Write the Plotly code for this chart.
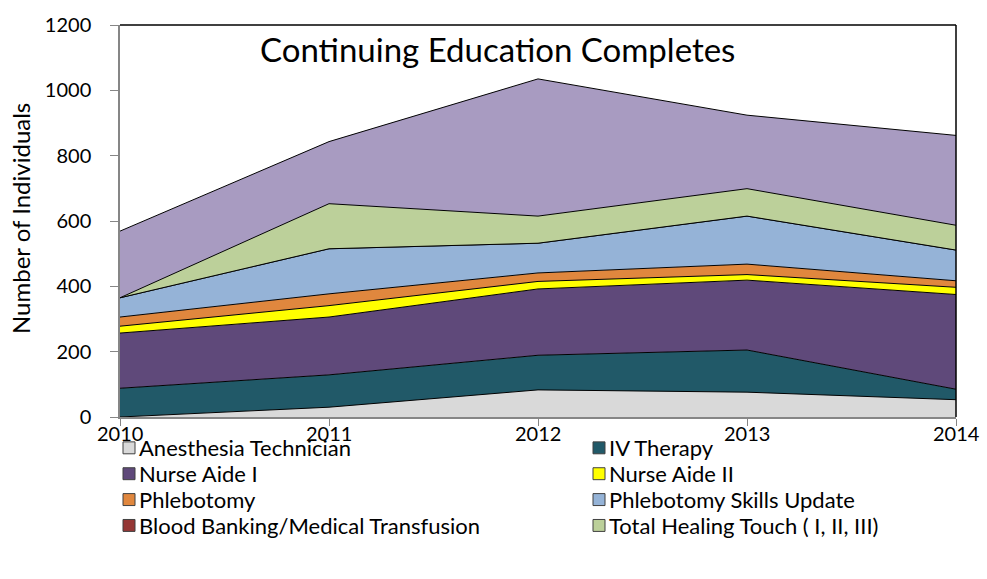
import plotly.graph_objects as go

years = [2010, 2011, 2012, 2013, 2014]
year_labels = ["2010", "2011", "2012", "2013", "2014"]

series_names = [
    "Anesthesia Technician",
    "IV Therapy",
    "Nurse Aide I",
    "Nurse Aide II",
    "Phlebotomy",
    "Phlebotomy Skills Update",
    "Blood Banking/Medical Transfusion",
    "Total Healing Touch ( I, II, III)",
    "Other",
]

anesthesia = [0, 30, 83, 76, 53]
iv_therapy = [88, 99, 106, 129, 32]
nurse_aide_1 = [169, 177, 203, 214, 290]
nurse_aide_2 = [21, 35, 23, 17, 22]
phlebotomy = [28, 36, 26, 32, 20]
phleb_skills = [59, 138, 91, 147, 94]
blood_banking = [0, 0, 0, 0, 0]
healing_touch = [0, 138, 83, 84, 76]
other = [204, 190, 420, 225, 275]

series_values = [anesthesia, iv_therapy, nurse_aide_1, nurse_aide_2, phlebotomy,
                 phleb_skills, blood_banking, healing_touch, other]

colors = ["#D9D9D9", "#215968", "#5F497A", "#FFFF00", "#E0873E",
          "#95B3D7", "#953735", "#BCD09A", "#A89BC1"]

in_legend = [True] * 8 + [False]

FONT = "Lato"

fig = go.Figure()
for name, vals, col in zip(series_names, series_values, colors):
    fig.add_trace(go.Scatter(
        x=years, y=vals, name=name, mode="lines",
        stackgroup="one", fillcolor=col,
        line=dict(color="black", width=1),
        showlegend=False, hoverinfo="x+y+name",
    ))

W, H = 987, 579
ml, mr, mt, mb = 120, 31, 23, 162
pw = W - ml - mr
ph = H - mt - mb


def px_x(x):
    return (x - ml) / pw


def px_y(y):
    return (H - mb - y) / ph


shapes = []
annotations = []

legend_items = [(n, c) for n, c, s in zip(series_names, colors, in_legend) if s]
col_x = [123, 593]
row_y = [448, 474, 500, 526]
for i, (n, c) in enumerate(legend_items):
    cx = col_x[i % 2]
    cy = row_y[i // 2]
    shapes.append(dict(type="rect", xref="paper", yref="paper",
                       x0=px_x(cx), x1=px_x(cx + 12), y0=px_y(cy + 6), y1=px_y(cy - 6),
                       fillcolor=c, line=dict(color="#404040", width=1)))
    annotations.append(dict(text=n, xref="paper", yref="paper",
                            x=px_x(cx + 15), y=px_y(cy), xanchor="left", yanchor="middle",
                            showarrow=False, borderpad=0,
                            font=dict(family=FONT, size=22, color="black")))

# x tick labels placed on the data axis
for yr, lab in zip(years, year_labels):
    annotations.append(dict(text=lab, xref="x", yref="paper", x=yr, y=px_y(433),
                            xanchor="center", yanchor="middle", showarrow=False, borderpad=0,
                            font=dict(family=FONT, size=20, color="black")))

# top and right border of plot area
shapes.append(dict(type="line", xref="paper", yref="paper", x0=0, x1=1, y0=1, y1=1,
                   line=dict(color="black", width=1.5)))
shapes.append(dict(type="line", xref="paper", yref="paper", x0=1, x1=1, y0=0, y1=1,
                   line=dict(color="black", width=1.5)))

annotations.append(dict(text="Continuing Education Completes", xref="paper", yref="paper",
                        x=px_x(497), y=px_y(47), xanchor="center", yanchor="middle",
                        showarrow=False, font=dict(family=FONT, size=33, color="black")))

annotations.append(dict(text="Number of Individuals", xref="paper", yref="paper",
                        x=px_x(20), y=px_y(218), xanchor="center", yanchor="middle",
                        textangle=-90, showarrow=False,
                        font=dict(family=FONT, size=24, color="black")))

fig.update_layout(
    width=W, height=H,
    margin=dict(l=ml, r=mr, t=mt, b=mb),
    paper_bgcolor="white", plot_bgcolor="white",
    font=dict(family=FONT, size=19, color="black"),
    shapes=shapes, annotations=annotations,
    showlegend=False,
    xaxis=dict(range=[2010, 2014], tickvals=years, showticklabels=False,
               showgrid=False, zeroline=False, showline=True, linecolor="#868686", linewidth=1.5,
               ticks="outside", ticklen=7, tickcolor="#868686"),
    yaxis=dict(range=[0, 1200], dtick=200, showgrid=False, zeroline=False, showline=True,
               linecolor="#868686", linewidth=1.5, ticks="outside", ticklen=8, tickcolor="#868686",
               tickfont=dict(size=20), ticklabelstandoff=15),
)

fig.write_html("out.html", config={"displayModeBar": False},
               post_script="document.body.style.margin='0px';")
